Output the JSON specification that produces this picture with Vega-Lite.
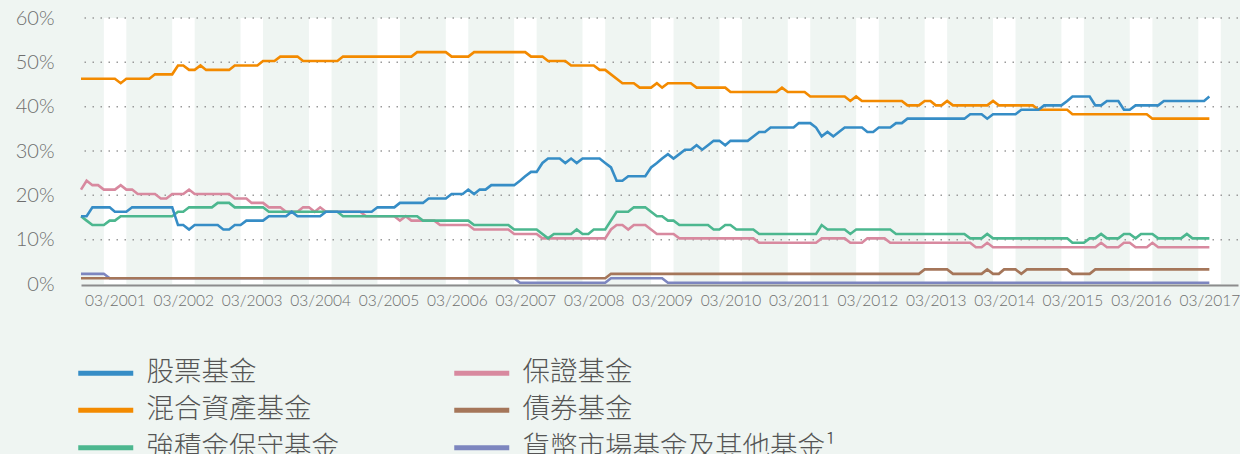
{
"$schema":"https://vega.github.io/schema/vega-lite/v6.json",
"width":1157,"height":266,
"autosize":{"type":"none"},
"padding":{"left":81,"top":18,"right":2,"bottom":170},
"background":"#eff5f2",
"config":{"view":{"stroke":null}},
"datasets":{
"bands":[
{"d":"2001-01-01","d2":"2001-05-01"},{"d":"2002-01-01","d2":"2002-05-01"},{"d":"2003-01-01","d2":"2003-05-01"},{"d":"2004-01-01","d2":"2004-05-01"},{"d":"2005-01-01","d2":"2005-05-01"},{"d":"2006-01-01","d2":"2006-05-01"},{"d":"2007-01-01","d2":"2007-05-01"},{"d":"2008-01-01","d2":"2008-05-01"},{"d":"2009-01-01","d2":"2009-05-01"},{"d":"2010-01-01","d2":"2010-05-01"},{"d":"2011-01-01","d2":"2011-05-01"},{"d":"2012-01-01","d2":"2012-05-01"},{"d":"2013-01-01","d2":"2013-05-01"},{"d":"2014-01-01","d2":"2014-05-01"},{"d":"2015-01-01","d2":"2015-05-01"},{"d":"2016-01-01","d2":"2016-05-01"},{"d":"2017-01-01","d2":"2017-05-01"}],
"grid":[{"v":10},{"v":20},{"v":30},{"v":40},{"v":50},{"v":60}],
"funds":[
{"f":"貨幣市場基金及其他基金¹","d":"2000-09","v":2},{"f":"貨幣市場基金及其他基金¹","d":"2001-01","v":2},{"f":"貨幣市場基金及其他基金¹","d":"2001-02","v":1},{"f":"貨幣市場基金及其他基金¹","d":"2007-01","v":1},{"f":"貨幣市場基金及其他基金¹","d":"2007-02","v":0},{"f":"貨幣市場基金及其他基金¹","d":"2008-05","v":0},{"f":"貨幣市場基金及其他基金¹","d":"2008-06","v":1},{"f":"貨幣市場基金及其他基金¹","d":"2009-03","v":1},{"f":"貨幣市場基金及其他基金¹","d":"2009-04","v":0},{"f":"貨幣市場基金及其他基金¹","d":"2017-03","v":0},
{"f":"債券基金","d":"2000-09","v":1},{"f":"債券基金","d":"2008-05","v":1},{"f":"債券基金","d":"2008-06","v":2},{"f":"債券基金","d":"2012-12","v":2},{"f":"債券基金","d":"2013-01","v":3},{"f":"債券基金","d":"2013-05","v":3},{"f":"債券基金","d":"2013-06","v":2},{"f":"債券基金","d":"2013-11","v":2},{"f":"債券基金","d":"2013-12","v":3},{"f":"債券基金","d":"2014-01","v":2},{"f":"債券基金","d":"2014-02","v":2},{"f":"債券基金","d":"2014-03","v":3},{"f":"債券基金","d":"2014-05","v":3},{"f":"債券基金","d":"2014-06","v":2},{"f":"債券基金","d":"2014-07","v":3},{"f":"債券基金","d":"2015-02","v":3},{"f":"債券基金","d":"2015-03","v":2},{"f":"債券基金","d":"2015-06","v":2},{"f":"債券基金","d":"2015-07","v":3},{"f":"債券基金","d":"2017-03","v":3},
{"f":"保證基金","d":"2000-09","v":21},{"f":"保證基金","d":"2000-10","v":23},{"f":"保證基金","d":"2000-11","v":22},{"f":"保證基金","d":"2000-12","v":22},{"f":"保證基金","d":"2001-01","v":21},{"f":"保證基金","d":"2001-03","v":21},{"f":"保證基金","d":"2001-04","v":22},{"f":"保證基金","d":"2001-05","v":21},{"f":"保證基金","d":"2001-06","v":21},{"f":"保證基金","d":"2001-07","v":20},{"f":"保證基金","d":"2001-10","v":20},{"f":"保證基金","d":"2001-11","v":19},{"f":"保證基金","d":"2001-12","v":19},{"f":"保證基金","d":"2002-01","v":20},{"f":"保證基金","d":"2002-03","v":20},{"f":"保證基金","d":"2002-04","v":21},{"f":"保證基金","d":"2002-05","v":20},{"f":"保證基金","d":"2002-11","v":20},{"f":"保證基金","d":"2002-12","v":19},{"f":"保證基金","d":"2003-02","v":19},{"f":"保證基金","d":"2003-03","v":18},{"f":"保證基金","d":"2003-05","v":18},{"f":"保證基金","d":"2003-06","v":17},{"f":"保證基金","d":"2003-08","v":17},{"f":"保證基金","d":"2003-09","v":16},{"f":"保證基金","d":"2003-11","v":16},{"f":"保證基金","d":"2003-12","v":17},{"f":"保證基金","d":"2004-01","v":17},{"f":"保證基金","d":"2004-02","v":16},{"f":"保證基金","d":"2004-03","v":17},{"f":"保證基金","d":"2004-04","v":16},{"f":"保證基金","d":"2004-10","v":16},{"f":"保證基金","d":"2004-11","v":15},{"f":"保證基金","d":"2005-04","v":15},{"f":"保證基金","d":"2005-05","v":14},{"f":"保證基金","d":"2005-06","v":15},{"f":"保證基金","d":"2005-07","v":14},{"f":"保證基金","d":"2005-11","v":14},{"f":"保證基金","d":"2005-12","v":13},{"f":"保證基金","d":"2006-05","v":13},{"f":"保證基金","d":"2006-06","v":12},{"f":"保證基金","d":"2006-12","v":12},{"f":"保證基金","d":"2007-01","v":11},{"f":"保證基金","d":"2007-05","v":11},{"f":"保證基金","d":"2007-06","v":10},{"f":"保證基金","d":"2008-05","v":10},{"f":"保證基金","d":"2008-06","v":12},{"f":"保證基金","d":"2008-07","v":13},{"f":"保證基金","d":"2008-08","v":13},{"f":"保證基金","d":"2008-09","v":12},{"f":"保證基金","d":"2008-10","v":13},{"f":"保證基金","d":"2008-12","v":13},{"f":"保證基金","d":"2009-01","v":12},{"f":"保證基金","d":"2009-02","v":11},{"f":"保證基金","d":"2009-05","v":11},{"f":"保證基金","d":"2009-06","v":10},{"f":"保證基金","d":"2010-07","v":10},{"f":"保證基金","d":"2010-08","v":9},{"f":"保證基金","d":"2011-06","v":9},{"f":"保證基金","d":"2011-07","v":10},{"f":"保證基金","d":"2011-11","v":10},{"f":"保證基金","d":"2011-12","v":9},{"f":"保證基金","d":"2012-02","v":9},{"f":"保證基金","d":"2012-03","v":10},{"f":"保證基金","d":"2012-06","v":10},{"f":"保證基金","d":"2012-07","v":9},{"f":"保證基金","d":"2013-09","v":9},{"f":"保證基金","d":"2013-10","v":8},{"f":"保證基金","d":"2013-11","v":8},{"f":"保證基金","d":"2013-12","v":9},{"f":"保證基金","d":"2014-01","v":8},{"f":"保證基金","d":"2015-07","v":8},{"f":"保證基金","d":"2015-08","v":9},{"f":"保證基金","d":"2015-09","v":8},{"f":"保證基金","d":"2015-11","v":8},{"f":"保證基金","d":"2015-12","v":9},{"f":"保證基金","d":"2016-01","v":9},{"f":"保證基金","d":"2016-02","v":8},{"f":"保證基金","d":"2016-04","v":8},{"f":"保證基金","d":"2016-05","v":9},{"f":"保證基金","d":"2016-06","v":8},{"f":"保證基金","d":"2017-03","v":8},
{"f":"強積金保守基金","d":"2000-09","v":15},{"f":"強積金保守基金","d":"2000-10","v":14},{"f":"強積金保守基金","d":"2000-11","v":13},{"f":"強積金保守基金","d":"2001-01","v":13},{"f":"強積金保守基金","d":"2001-02","v":14},{"f":"強積金保守基金","d":"2001-03","v":14},{"f":"強積金保守基金","d":"2001-04","v":15},{"f":"強積金保守基金","d":"2002-01","v":15},{"f":"強積金保守基金","d":"2002-02","v":16},{"f":"強積金保守基金","d":"2002-03","v":16},{"f":"強積金保守基金","d":"2002-04","v":17},{"f":"強積金保守基金","d":"2002-08","v":17},{"f":"強積金保守基金","d":"2002-09","v":18},{"f":"強積金保守基金","d":"2002-11","v":18},{"f":"強積金保守基金","d":"2002-12","v":17},{"f":"強積金保守基金","d":"2003-05","v":17},{"f":"強積金保守基金","d":"2003-06","v":16},{"f":"強積金保守基金","d":"2004-06","v":16},{"f":"強積金保守基金","d":"2004-07","v":15},{"f":"強積金保守基金","d":"2005-08","v":15},{"f":"強積金保守基金","d":"2005-09","v":14},{"f":"強積金保守基金","d":"2006-05","v":14},{"f":"強積金保守基金","d":"2006-06","v":13},{"f":"強積金保守基金","d":"2006-12","v":13},{"f":"強積金保守基金","d":"2007-01","v":12},{"f":"強積金保守基金","d":"2007-05","v":12},{"f":"強積金保守基金","d":"2007-07","v":10},{"f":"強積金保守基金","d":"2007-08","v":11},{"f":"強積金保守基金","d":"2007-11","v":11},{"f":"強積金保守基金","d":"2007-12","v":12},{"f":"強積金保守基金","d":"2008-01","v":11},{"f":"強積金保守基金","d":"2008-02","v":11},{"f":"強積金保守基金","d":"2008-03","v":12},{"f":"強積金保守基金","d":"2008-05","v":12},{"f":"強積金保守基金","d":"2008-07","v":16},{"f":"強積金保守基金","d":"2008-09","v":16},{"f":"強積金保守基金","d":"2008-10","v":17},{"f":"強積金保守基金","d":"2008-12","v":17},{"f":"強積金保守基金","d":"2009-02","v":15},{"f":"強積金保守基金","d":"2009-03","v":15},{"f":"強積金保守基金","d":"2009-04","v":14},{"f":"強積金保守基金","d":"2009-05","v":14},{"f":"強積金保守基金","d":"2009-06","v":13},{"f":"強積金保守基金","d":"2009-11","v":13},{"f":"強積金保守基金","d":"2009-12","v":12},{"f":"強積金保守基金","d":"2010-01","v":12},{"f":"強積金保守基金","d":"2010-02","v":13},{"f":"強積金保守基金","d":"2010-03","v":13},{"f":"強積金保守基金","d":"2010-04","v":12},{"f":"強積金保守基金","d":"2010-07","v":12},{"f":"強積金保守基金","d":"2010-08","v":11},{"f":"強積金保守基金","d":"2011-06","v":11},{"f":"強積金保守基金","d":"2011-07","v":13},{"f":"強積金保守基金","d":"2011-08","v":12},{"f":"強積金保守基金","d":"2011-11","v":12},{"f":"強積金保守基金","d":"2011-12","v":11},{"f":"強積金保守基金","d":"2012-01","v":12},{"f":"強積金保守基金","d":"2012-07","v":12},{"f":"強積金保守基金","d":"2012-08","v":11},{"f":"強積金保守基金","d":"2013-08","v":11},{"f":"強積金保守基金","d":"2013-09","v":10},{"f":"強積金保守基金","d":"2013-11","v":10},{"f":"強積金保守基金","d":"2013-12","v":11},{"f":"強積金保守基金","d":"2014-01","v":10},{"f":"強積金保守基金","d":"2015-02","v":10},{"f":"強積金保守基金","d":"2015-03","v":9},{"f":"強積金保守基金","d":"2015-05","v":9},{"f":"強積金保守基金","d":"2015-06","v":10},{"f":"強積金保守基金","d":"2015-07","v":10},{"f":"強積金保守基金","d":"2015-08","v":11},{"f":"強積金保守基金","d":"2015-09","v":10},{"f":"強積金保守基金","d":"2015-11","v":10},{"f":"強積金保守基金","d":"2015-12","v":11},{"f":"強積金保守基金","d":"2016-01","v":11},{"f":"強積金保守基金","d":"2016-02","v":10},{"f":"強積金保守基金","d":"2016-03","v":11},{"f":"強積金保守基金","d":"2016-05","v":11},{"f":"強積金保守基金","d":"2016-06","v":10},{"f":"強積金保守基金","d":"2016-10","v":10},{"f":"強積金保守基金","d":"2016-11","v":11},{"f":"強積金保守基金","d":"2016-12","v":10},{"f":"強積金保守基金","d":"2017-03","v":10},
{"f":"混合資產基金","d":"2000-09","v":46},{"f":"混合資產基金","d":"2001-03","v":46},{"f":"混合資產基金","d":"2001-04","v":45},{"f":"混合資產基金","d":"2001-05","v":46},{"f":"混合資產基金","d":"2001-09","v":46},{"f":"混合資產基金","d":"2001-10","v":47},{"f":"混合資產基金","d":"2002-01","v":47},{"f":"混合資產基金","d":"2002-02","v":49},{"f":"混合資產基金","d":"2002-03","v":49},{"f":"混合資產基金","d":"2002-04","v":48},{"f":"混合資產基金","d":"2002-05","v":48},{"f":"混合資產基金","d":"2002-06","v":49},{"f":"混合資產基金","d":"2002-07","v":48},{"f":"混合資產基金","d":"2002-11","v":48},{"f":"混合資產基金","d":"2002-12","v":49},{"f":"混合資產基金","d":"2003-04","v":49},{"f":"混合資產基金","d":"2003-05","v":50},{"f":"混合資產基金","d":"2003-07","v":50},{"f":"混合資產基金","d":"2003-08","v":51},{"f":"混合資產基金","d":"2003-11","v":51},{"f":"混合資產基金","d":"2003-12","v":50},{"f":"混合資產基金","d":"2004-06","v":50},{"f":"混合資產基金","d":"2004-07","v":51},{"f":"混合資產基金","d":"2005-07","v":51},{"f":"混合資產基金","d":"2005-08","v":52},{"f":"混合資產基金","d":"2006-01","v":52},{"f":"混合資產基金","d":"2006-02","v":51},{"f":"混合資產基金","d":"2006-05","v":51},{"f":"混合資產基金","d":"2006-06","v":52},{"f":"混合資產基金","d":"2007-03","v":52},{"f":"混合資產基金","d":"2007-04","v":51},{"f":"混合資產基金","d":"2007-06","v":51},{"f":"混合資產基金","d":"2007-07","v":50},{"f":"混合資產基金","d":"2007-10","v":50},{"f":"混合資產基金","d":"2007-11","v":49},{"f":"混合資產基金","d":"2008-03","v":49},{"f":"混合資產基金","d":"2008-04","v":48},{"f":"混合資產基金","d":"2008-05","v":48},{"f":"混合資產基金","d":"2008-08","v":45},{"f":"混合資產基金","d":"2008-10","v":45},{"f":"混合資產基金","d":"2008-11","v":44},{"f":"混合資產基金","d":"2009-01","v":44},{"f":"混合資產基金","d":"2009-02","v":45},{"f":"混合資產基金","d":"2009-03","v":44},{"f":"混合資產基金","d":"2009-04","v":45},{"f":"混合資產基金","d":"2009-08","v":45},{"f":"混合資產基金","d":"2009-09","v":44},{"f":"混合資產基金","d":"2010-02","v":44},{"f":"混合資產基金","d":"2010-03","v":43},{"f":"混合資產基金","d":"2010-11","v":43},{"f":"混合資產基金","d":"2010-12","v":44},{"f":"混合資產基金","d":"2011-01","v":43},{"f":"混合資產基金","d":"2011-04","v":43},{"f":"混合資產基金","d":"2011-05","v":42},{"f":"混合資產基金","d":"2011-11","v":42},{"f":"混合資產基金","d":"2011-12","v":41},{"f":"混合資產基金","d":"2012-01","v":42},{"f":"混合資產基金","d":"2012-02","v":41},{"f":"混合資產基金","d":"2012-09","v":41},{"f":"混合資產基金","d":"2012-10","v":40},{"f":"混合資產基金","d":"2012-12","v":40},{"f":"混合資產基金","d":"2013-01","v":41},{"f":"混合資產基金","d":"2013-02","v":41},{"f":"混合資產基金","d":"2013-03","v":40},{"f":"混合資產基金","d":"2013-04","v":40},{"f":"混合資產基金","d":"2013-05","v":41},{"f":"混合資產基金","d":"2013-06","v":40},{"f":"混合資產基金","d":"2013-12","v":40},{"f":"混合資產基金","d":"2014-01","v":41},{"f":"混合資產基金","d":"2014-02","v":40},{"f":"混合資產基金","d":"2014-08","v":40},{"f":"混合資產基金","d":"2014-09","v":39},{"f":"混合資產基金","d":"2015-02","v":39},{"f":"混合資產基金","d":"2015-03","v":38},{"f":"混合資產基金","d":"2016-04","v":38},{"f":"混合資產基金","d":"2016-05","v":37},{"f":"混合資產基金","d":"2017-03","v":37},
{"f":"股票基金","d":"2000-09","v":15},{"f":"股票基金","d":"2000-10","v":15},{"f":"股票基金","d":"2000-11","v":17},{"f":"股票基金","d":"2001-02","v":17},{"f":"股票基金","d":"2001-03","v":16},{"f":"股票基金","d":"2001-05","v":16},{"f":"股票基金","d":"2001-06","v":17},{"f":"股票基金","d":"2002-01","v":17},{"f":"股票基金","d":"2002-02","v":13},{"f":"股票基金","d":"2002-03","v":13},{"f":"股票基金","d":"2002-04","v":12},{"f":"股票基金","d":"2002-05","v":13},{"f":"股票基金","d":"2002-09","v":13},{"f":"股票基金","d":"2002-10","v":12},{"f":"股票基金","d":"2002-11","v":12},{"f":"股票基金","d":"2002-12","v":13},{"f":"股票基金","d":"2003-01","v":13},{"f":"股票基金","d":"2003-02","v":14},{"f":"股票基金","d":"2003-05","v":14},{"f":"股票基金","d":"2003-06","v":15},{"f":"股票基金","d":"2003-09","v":15},{"f":"股票基金","d":"2003-10","v":16},{"f":"股票基金","d":"2003-11","v":15},{"f":"股票基金","d":"2004-03","v":15},{"f":"股票基金","d":"2004-04","v":16},{"f":"股票基金","d":"2004-12","v":16},{"f":"股票基金","d":"2005-01","v":17},{"f":"股票基金","d":"2005-04","v":17},{"f":"股票基金","d":"2005-05","v":18},{"f":"股票基金","d":"2005-09","v":18},{"f":"股票基金","d":"2005-10","v":19},{"f":"股票基金","d":"2006-01","v":19},{"f":"股票基金","d":"2006-02","v":20},{"f":"股票基金","d":"2006-04","v":20},{"f":"股票基金","d":"2006-05","v":21},{"f":"股票基金","d":"2006-06","v":20},{"f":"股票基金","d":"2006-07","v":21},{"f":"股票基金","d":"2006-08","v":21},{"f":"股票基金","d":"2006-09","v":22},{"f":"股票基金","d":"2007-01","v":22},{"f":"股票基金","d":"2007-02","v":23},{"f":"股票基金","d":"2007-03","v":24},{"f":"股票基金","d":"2007-04","v":25},{"f":"股票基金","d":"2007-05","v":25},{"f":"股票基金","d":"2007-06","v":27},{"f":"股票基金","d":"2007-07","v":28},{"f":"股票基金","d":"2007-09","v":28},{"f":"股票基金","d":"2007-10","v":27},{"f":"股票基金","d":"2007-11","v":28},{"f":"股票基金","d":"2007-12","v":27},{"f":"股票基金","d":"2008-01","v":28},{"f":"股票基金","d":"2008-04","v":28},{"f":"股票基金","d":"2008-05","v":27},{"f":"股票基金","d":"2008-06","v":26},{"f":"股票基金","d":"2008-07","v":23},{"f":"股票基金","d":"2008-08","v":23},{"f":"股票基金","d":"2008-09","v":24},{"f":"股票基金","d":"2008-12","v":24},{"f":"股票基金","d":"2009-01","v":26},{"f":"股票基金","d":"2009-02","v":27},{"f":"股票基金","d":"2009-03","v":28},{"f":"股票基金","d":"2009-04","v":29},{"f":"股票基金","d":"2009-05","v":28},{"f":"股票基金","d":"2009-06","v":29},{"f":"股票基金","d":"2009-07","v":30},{"f":"股票基金","d":"2009-08","v":30},{"f":"股票基金","d":"2009-09","v":31},{"f":"股票基金","d":"2009-10","v":30},{"f":"股票基金","d":"2009-11","v":31},{"f":"股票基金","d":"2009-12","v":32},{"f":"股票基金","d":"2010-01","v":32},{"f":"股票基金","d":"2010-02","v":31},{"f":"股票基金","d":"2010-03","v":32},{"f":"股票基金","d":"2010-06","v":32},{"f":"股票基金","d":"2010-07","v":33},{"f":"股票基金","d":"2010-08","v":34},{"f":"股票基金","d":"2010-09","v":34},{"f":"股票基金","d":"2010-10","v":35},{"f":"股票基金","d":"2011-02","v":35},{"f":"股票基金","d":"2011-03","v":36},{"f":"股票基金","d":"2011-05","v":36},{"f":"股票基金","d":"2011-06","v":35},{"f":"股票基金","d":"2011-07","v":33},{"f":"股票基金","d":"2011-08","v":34},{"f":"股票基金","d":"2011-09","v":33},{"f":"股票基金","d":"2011-10","v":34},{"f":"股票基金","d":"2011-11","v":35},{"f":"股票基金","d":"2012-02","v":35},{"f":"股票基金","d":"2012-03","v":34},{"f":"股票基金","d":"2012-04","v":34},{"f":"股票基金","d":"2012-05","v":35},{"f":"股票基金","d":"2012-07","v":35},{"f":"股票基金","d":"2012-08","v":36},{"f":"股票基金","d":"2012-09","v":36},{"f":"股票基金","d":"2012-10","v":37},{"f":"股票基金","d":"2013-08","v":37},{"f":"股票基金","d":"2013-09","v":38},{"f":"股票基金","d":"2013-11","v":38},{"f":"股票基金","d":"2013-12","v":37},{"f":"股票基金","d":"2014-01","v":38},{"f":"股票基金","d":"2014-05","v":38},{"f":"股票基金","d":"2014-06","v":39},{"f":"股票基金","d":"2014-09","v":39},{"f":"股票基金","d":"2014-10","v":40},{"f":"股票基金","d":"2015-01","v":40},{"f":"股票基金","d":"2015-02","v":41},{"f":"股票基金","d":"2015-03","v":42},{"f":"股票基金","d":"2015-06","v":42},{"f":"股票基金","d":"2015-07","v":40},{"f":"股票基金","d":"2015-08","v":40},{"f":"股票基金","d":"2015-09","v":41},{"f":"股票基金","d":"2015-11","v":41},{"f":"股票基金","d":"2015-12","v":39},{"f":"股票基金","d":"2016-01","v":39},{"f":"股票基金","d":"2016-02","v":40},{"f":"股票基金","d":"2016-06","v":40},{"f":"股票基金","d":"2016-07","v":41},{"f":"股票基金","d":"2017-02","v":41},{"f":"股票基金","d":"2017-03","v":42}
]},
"layer":[
{"data":{"name":"bands"},"mark":{"type":"rect","color":"#ffffff"},
 "encoding":{"x":{"field":"d","type":"temporal","scale":{"domain":[{"year":2000,"month":9,"date":1},{"year":2017,"month":8,"date":1}]}},"x2":{"field":"d2"}}},
{"data":{"name":"grid"},"mark":{"type":"rule","color":"#9a9a9a","strokeDash":[1.5,6.5],"strokeWidth":1.5},
 "encoding":{"y":{"field":"v","type":"quantitative","scale":{"domain":[0,60]}}}},
{"data":{"name":"funds"},"mark":{"type":"line","strokeWidth":2.6,"yOffset":-1.3},
 "encoding":{
  "x":{"field":"d","type":"temporal","scale":{"domain":[{"year":2000,"month":9,"date":1},{"year":2017,"month":8,"date":1}]},
   "axis":{"title":null,"values":[{"year":2001,"month":3,"date":1},{"year":2002,"month":3,"date":1},{"year":2003,"month":3,"date":1},{"year":2004,"month":3,"date":1},{"year":2005,"month":3,"date":1},{"year":2006,"month":3,"date":1},{"year":2007,"month":3,"date":1},{"year":2008,"month":3,"date":1},{"year":2009,"month":3,"date":1},{"year":2010,"month":3,"date":1},{"year":2011,"month":3,"date":1},{"year":2012,"month":3,"date":1},{"year":2013,"month":3,"date":1},{"year":2014,"month":3,"date":1},{"year":2015,"month":3,"date":1},{"year":2016,"month":3,"date":1},{"year":2017,"month":3,"date":1}],
   "format":"%m/%Y","labelFont":"Lato","labelFontWeight":300,"labelFontSize":15.5,"labelColor":"#6e6e6e","labelPadding":8,"labelOverlap":false,"labelFlush":false,"labelBound":false,
   "ticks":false,"grid":false,"domainColor":"#8c8c8c","domainWidth":2,"offset":1,"zindex":1}},
  "y":{"field":"v","type":"quantitative","scale":{"domain":[0,60]},
   "axis":{"title":null,"values":[0,10,20,30,40,50,60],"labelExpr":"datum.value + '%'","grid":false,"domain":false,"ticks":false,"labelPadding":27,"labelFont":"Lato","labelFontWeight":300,"labelFontSize":20,"labelColor":"#6e6e6e"}},
  "color":{"field":"f","type":"nominal",
   "scale":{"domain":["股票基金","混合資產基金","強積金保守基金","保證基金","債券基金","貨幣市場基金及其他基金¹"],"range":["#368dc6","#f38a00","#4cb78f","#d8899f","#a5765a","#7d86bf"]},
   "legend":{"orient":"none","legendX":11,"legendY":341,"columns":2,"columnPadding":105,"rowPadding":8.5,"padding":0,"title":null,
    "symbolType":"M-2.5,0L2.5,0","symbolSize":484,"symbolStrokeWidth":5,"symbolOpacity":1,
    "labelFont":"Noto Sans CJK TC","labelFontWeight":300,"labelFontSize":27.5,"labelColor":"#555555","labelOffset":27,"labelLimit":0}}
 }}
]
}
